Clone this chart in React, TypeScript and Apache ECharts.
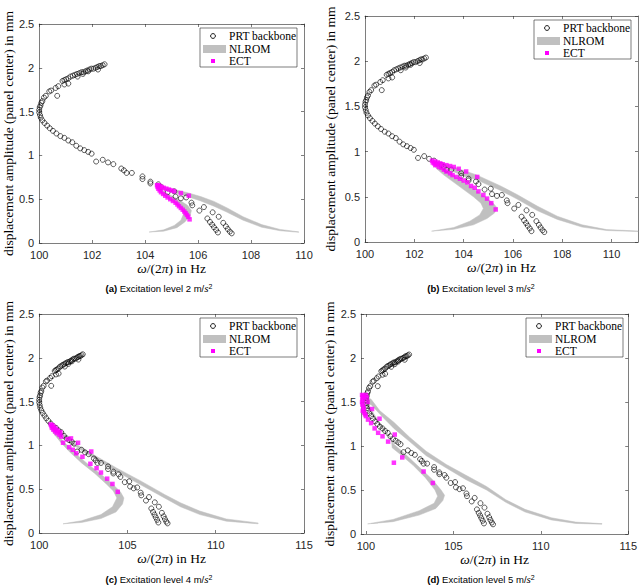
import * as echarts from "echarts";
import { useEffect, useRef } from "react";

const serif = "Liberation Serif";
const sans = "Liberation Sans";
const axisColor = "#262626";
const bandColor = "#c0c0c0";
const ectColor = "#ff00ff";

// PRT backbone, [frequency Hz, amplitude mm] (same test data in every panel)
const backbone = [
	[102.47, 2.04], [102.4, 2.03], [102.33, 2.02], [102.27, 2.02], [102.2, 2.01],
	[102.13, 2.0], [102.05, 1.99], [101.97, 1.99], [101.9, 1.98], [101.82, 1.97],
	[101.75, 1.96], [101.67, 1.95], [101.6, 1.95], [101.52, 1.94], [101.43, 1.93],
	[101.35, 1.92], [101.27, 1.91], [101.18, 1.9], [101.1, 1.88], [101.02, 1.87],
	[100.95, 1.86], [100.88, 1.85], [101.1, 1.82], [100.95, 1.81], [102.22, 1.98],
	[101.45, 1.9], [101.65, 1.93], [101.85, 1.96], [100.72, 1.79], [100.62, 1.77],
	[100.45, 1.74], [100.38, 1.73], [100.68, 1.68], [100.25, 1.68], [100.18, 1.66],
	[100.12, 1.62], [100.08, 1.6], [100.05, 1.57], [100.02, 1.55], [100.0, 1.52],
	[100.0, 1.49], [100.03, 1.46], [100.06, 1.43], [100.12, 1.4], [100.2, 1.37],
	[100.3, 1.34], [100.4, 1.31], [100.52, 1.28], [100.65, 1.25], [100.8, 1.22],
	[100.95, 1.2], [101.1, 1.17], [101.25, 1.15], [101.4, 1.11], [101.55, 1.08],
	[101.7, 1.06], [101.85, 1.04], [101.98, 1.02], [102.15, 0.93], [102.4, 0.95],
	[102.6, 0.92], [102.8, 0.9], [103.1, 0.85], [103.2, 0.83], [103.3, 0.8],
	[103.5, 0.8], [103.9, 0.76], [103.9, 0.73], [104.2, 0.7], [104.2, 0.68],
	[104.5, 0.67], [104.6, 0.64], [104.85, 0.58], [105.1, 0.59], [105.15, 0.53],
	[105.35, 0.51], [105.55, 0.52], [105.75, 0.46], [105.78, 0.43], [106.05, 0.37],
	[106.22, 0.41], [106.35, 0.28], [106.45, 0.24], [106.53, 0.21], [106.6, 0.18],
	[106.68, 0.15], [106.75, 0.12], [106.55, 0.35], [106.78, 0.3], [106.95, 0.23],
	[107.05, 0.19], [107.12, 0.16], [107.2, 0.13], [107.27, 0.11],
];

// ECT points per excitation level
const ectA = [
	[104.45, 0.66], [104.47, 0.64], [104.5, 0.62], [104.5, 0.66], [104.55, 0.6],
	[104.55, 0.65], [104.6, 0.58], [104.62, 0.64], [104.68, 0.56], [104.7, 0.63],
	[104.76, 0.54], [104.8, 0.62], [104.85, 0.52], [104.9, 0.61], [104.95, 0.5],
	[105.0, 0.6], [105.05, 0.48], [105.1, 0.59], [105.15, 0.46], [105.22, 0.44],
	[105.28, 0.42], [105.35, 0.57], [105.35, 0.4], [105.42, 0.38], [105.48, 0.36],
	[105.53, 0.34], [105.58, 0.32], [105.65, 0.54], [105.63, 0.3], [105.68, 0.27],
];
const ectB = [
	[102.72, 0.9], [102.75, 0.88], [102.8, 0.87], [102.85, 0.89], [102.85, 0.85],
	[102.9, 0.86], [102.95, 0.88], [103.0, 0.83], [103.05, 0.87], [103.1, 0.82],
	[103.15, 0.86], [103.2, 0.8], [103.3, 0.85], [103.3, 0.78], [103.45, 0.84],
	[103.45, 0.76], [103.6, 0.83], [103.55, 0.74], [103.8, 0.81], [103.7, 0.72],
	[103.85, 0.7], [104.1, 0.78], [104.0, 0.68], [104.15, 0.66], [104.3, 0.62],
	[104.55, 0.72], [104.45, 0.6], [104.6, 0.56], [104.8, 0.52], [104.95, 0.48],
	[105.12, 0.43], [105.3, 0.36],
];
const ectC = [
	[100.65, 1.24], [100.7, 1.22], [100.72, 1.2], [100.75, 1.23], [100.8, 1.18],
	[100.85, 1.21], [100.9, 1.16], [100.95, 1.19], [101.0, 1.14], [101.05, 1.17],
	[101.15, 1.12], [101.2, 1.15], [101.25, 1.1], [101.35, 1.03], [101.6, 1.07],
	[101.8, 1.08], [101.7, 0.98], [101.9, 0.95], [102.2, 1.03], [102.1, 0.91],
	[102.45, 0.87], [102.95, 0.93], [102.9, 0.79], [103.25, 0.74], [103.5, 0.69],
	[103.85, 0.62], [104.15, 0.56], [104.45, 0.47],
];
const ectD = [
	[99.78, 1.58], [99.8, 1.55], [99.82, 1.52], [99.78, 1.5], [99.85, 1.57],
	[99.8, 1.47], [99.85, 1.45], [99.88, 1.42], [99.82, 1.4], [99.9, 1.38],
	[99.95, 1.36], [100.0, 1.34], [99.9, 1.56], [100.0, 1.58], [100.05, 1.55],
	[100.1, 1.5], [100.12, 1.3], [100.3, 1.26], [100.5, 1.2], [100.7, 1.15],
	[100.95, 1.11], [101.27, 1.05], [100.35, 1.42], [100.78, 1.31], [101.65, 1.13],
	[101.6, 0.81], [102.08, 0.87], [103.3, 0.71], [103.83, 0.58],
];

// NLROM band edges, both running from the left end to the right end of the curve
const nlromA1 = [
	[104.15, 0.125], [104.7, 0.135], [105.2, 0.175], [105.5, 0.24], [105.7, 0.31],
	[105.75, 0.37], [105.6, 0.43], [105.35, 0.48], [105.05, 0.53], [104.75, 0.58],
	[104.6, 0.61], [104.9, 0.59], [105.3, 0.56], [105.6, 0.53], [106.1, 0.48],
	[106.6, 0.42], [107.1, 0.35], [107.7, 0.26], [108.4, 0.18], [109.1, 0.14],
	[109.8, 0.122],
];
const nlromA2 = [
	[104.15, 0.125], [104.7, 0.15], [105.1, 0.2], [105.35, 0.26], [105.45, 0.33],
	[105.4, 0.39], [105.2, 0.44], [104.95, 0.49], [104.7, 0.55], [104.5, 0.6],
	[104.45, 0.64], [104.7, 0.64], [105.1, 0.61], [105.6, 0.575], [106.1, 0.53],
	[106.6, 0.475], [107.1, 0.4], [107.7, 0.3], [108.4, 0.21], [109.1, 0.155],
	[109.8, 0.127],
];
const nlromB1 = [
	[102.7, 0.12], [103.6, 0.14], [104.4, 0.19], [104.95, 0.26], [105.25, 0.32],
	[105.35, 0.38], [105.2, 0.43], [104.9, 0.49], [104.5, 0.57], [104.1, 0.65],
	[103.7, 0.72], [103.3, 0.79], [103.05, 0.84], [103.4, 0.8], [104.0, 0.73],
	[104.5, 0.69], [105.5, 0.57], [106.2, 0.47], [107.0, 0.345], [107.8, 0.25],
	[108.8, 0.165], [109.8, 0.127], [111.07, 0.115],
];
const nlromB2 = [
	[102.7, 0.12], [103.6, 0.16], [104.25, 0.23], [104.65, 0.3], [104.8, 0.37],
	[104.7, 0.43], [104.4, 0.5], [104.0, 0.58], [103.6, 0.66], [103.2, 0.74],
	[102.9, 0.81], [102.75, 0.87], [102.9, 0.89], [103.5, 0.84], [104.0, 0.79],
	[104.5, 0.745], [105.5, 0.62], [106.2, 0.52], [107.0, 0.395], [107.8, 0.285],
	[108.8, 0.19], [109.8, 0.137], [111.07, 0.122],
];
const nlromC1 = [
	[101.35, 0.105], [102.4, 0.12], [103.5, 0.165], [104.35, 0.24], [104.72, 0.33],
	[104.8, 0.4], [104.6, 0.47], [104.15, 0.56], [103.5, 0.67], [102.8, 0.78],
	[102.1, 0.9], [101.5, 1.02], [101.0, 1.13], [100.85, 1.19], [101.2, 1.13],
	[101.9, 1.01], [102.9, 0.875], [104.4, 0.7], [105.75, 0.55], [107.1, 0.4],
	[108.0, 0.3], [109.1, 0.21], [110.6, 0.135], [112.4, 0.105],
];
const nlromC2 = [
	[101.35, 0.105], [102.4, 0.14], [103.5, 0.21], [104.15, 0.3], [104.4, 0.4],
	[104.2, 0.48], [103.8, 0.56], [103.15, 0.68], [102.4, 0.8], [101.7, 0.93],
	[101.2, 1.04], [100.8, 1.14], [100.65, 1.21], [100.9, 1.22], [101.5, 1.11],
	[102.0, 1.025], [102.9, 0.915], [104.4, 0.74], [105.75, 0.595], [107.1, 0.44],
	[108.0, 0.345], [109.1, 0.25], [110.6, 0.16], [112.4, 0.115],
];
const nlromD1 = [
	[100.1, 0.115], [101.55, 0.14], [103.05, 0.215], [104.0, 0.29], [104.4, 0.38],
	[104.5, 0.44], [104.3, 0.5], [103.8, 0.62], [103.1, 0.75], [102.4, 0.88],
	[101.9, 0.97], [101.6, 1.02], [101.2, 1.15], [100.6, 1.32], [100.1, 1.48],
	[100.3, 1.47], [100.9, 1.34], [101.6, 1.2], [102.5, 1.05], [103.45, 0.89],
	[104.6, 0.75], [105.7, 0.62], [106.9, 0.5], [108.0, 0.36], [109.1, 0.25],
	[110.6, 0.16], [112.0, 0.12], [113.5, 0.112],
];
const nlromD2 = [
	[100.1, 0.115], [101.55, 0.165], [103.05, 0.265], [103.9, 0.35], [104.1, 0.43],
	[103.95, 0.5], [103.4, 0.64], [102.7, 0.78], [102.0, 0.9], [101.5, 0.98],
	[101.45, 1.1], [100.9, 1.2], [100.3, 1.38], [99.9, 1.5], [99.95, 1.57],
	[100.3, 1.53], [100.8, 1.4], [101.6, 1.27], [102.5, 1.1], [103.45, 0.94],
	[104.6, 0.79], [105.7, 0.67], [106.9, 0.54], [108.0, 0.39], [109.1, 0.28],
	[110.6, 0.185], [112.0, 0.135], [113.5, 0.118],
];

const xTicksNarrow = [100, 102, 104, 106, 108, 110];
const xTicksWide = [100, 105, 110, 115];
const yTicks = [0, 0.5, 1, 1.5, 2, 2.5];
const xRanges = [
	[100, 110],
	[100, 111.07],
	[100, 115],
	[99.72, 115],
];
const levels = [2, 3, 4, 5];
const letters = ["a", "b", "c", "d"];
const legendNames = ["PRT backbone", "NLROM", "ECT"];

const panels = [
	{ left: 38, top: 24, width: 266, height: 219, ticks: xTicksNarrow, ect: ectA, b1: nlromA1, b2: nlromA2, gap: 24, cx: 159, cy: 288 },
	{ left: 365, top: 16, width: 273, height: 226, ticks: xTicksNarrow, ect: ectB, b1: nlromB1, b2: nlromB2, gap: 28, cx: 481, cy: 288 },
	{ left: 38, top: 314, width: 266, height: 219, ticks: xTicksWide, ect: ectC, b1: nlromC1, b2: nlromC2, gap: 24, cx: 159, cy: 579 },
	{ left: 361, top: 314, width: 269, height: 220, ticks: xTicksWide, ect: ectD, b1: nlromD1, b2: nlromD2, gap: 24, cx: 481, cy: 579 },
];

export default function App() {
	const chartRef = useRef<HTMLDivElement>(null);

	useEffect(() => {
		if (!chartRef.current) return;
		const chart = echarts.init(chartRef.current, null, { renderer: "svg" });

		const line = { color: axisColor, width: 0.6 };
		const tickLabel = { fontSize: 11, color: axisColor, fontFamily: sans };

		const grid = panels.map((p) => ({
			left: p.left,
			top: p.top,
			width: p.width,
			height: p.height,
		}));

		const xAxis = panels.flatMap((p, i) => [
			{
				gridIndex: i,
				type: "value",
				min: xRanges[i][0],
				max: xRanges[i][1],
				position: "bottom",
				axisLine: { show: true, onZero: false, lineStyle: line },
				axisTick: { show: true, inside: true, length: 3, lineStyle: line, customValues: p.ticks },
				axisLabel: { ...tickLabel, margin: 6, customValues: p.ticks },
				splitLine: { show: false },
				name: "{i|ω}/(2{i|π}) in Hz",
				nameLocation: "middle",
				nameGap: 18,
				nameTextStyle: {
					fontFamily: serif,
					fontSize: 13.5,
					color: "#000",
					rich: { i: { fontFamily: serif, fontSize: 13.5, fontStyle: "italic" } },
				},
			},
			{
				gridIndex: i,
				type: "value",
				min: xRanges[i][0],
				max: xRanges[i][1],
				position: "top",
				axisLine: { show: true, onZero: false, lineStyle: line },
				axisTick: { show: true, inside: true, length: 3, lineStyle: line, customValues: p.ticks },
				axisLabel: { show: false },
				splitLine: { show: false },
			},
		]);

		const yAxis = panels.flatMap((p, i) => [
			{
				gridIndex: i,
				type: "value",
				min: 0,
				max: 2.5,
				position: "left",
				axisLine: { show: true, onZero: false, lineStyle: line },
				axisTick: { show: true, inside: true, length: 3, lineStyle: line, customValues: yTicks },
				axisLabel: { ...tickLabel, margin: 5, customValues: yTicks },
				splitLine: { show: false },
				name: "displacement amplitude (panel center) in mm",
				nameLocation: "middle",
				nameGap: p.gap,
				nameTextStyle: { fontFamily: serif, fontSize: 13.5, color: "#000" },
			},
			{
				gridIndex: i,
				type: "value",
				min: 0,
				max: 2.5,
				position: "right",
				axisLine: { show: true, onZero: false, lineStyle: line },
				axisTick: { show: true, inside: true, length: 3, lineStyle: line, customValues: yTicks },
				axisLabel: { show: false },
				splitLine: { show: false },
			},
		]);

		const series = panels.flatMap((p, i) => {
			const outline = [...p.b1, ...p.b2.slice().reverse()];
			return [
				{
					name: "NLROM",
					type: "custom",
					xAxisIndex: 2 * i,
					yAxisIndex: 2 * i,
					silent: true,
					z: 1,
					data: outline,
					renderItem: (params: any, api: any) => {
						if (params.dataIndex !== 0) return null;
						return {
							type: "polygon",
							shape: { points: outline.map((pt) => api.coord(pt)) },
							style: { fill: bandColor, stroke: bandColor, lineWidth: 0.5 },
						};
					},
				},
				{
					name: "PRT backbone",
					type: "scatter",
					xAxisIndex: 2 * i,
					yAxisIndex: 2 * i,
					silent: true,
					z: 2,
					symbol: "circle",
					symbolSize: 5,
					itemStyle: { color: "rgba(255,255,255,0)", borderColor: "#000", borderWidth: 0.8 },
					data: backbone,
				},
				{
					name: "ECT",
					type: "scatter",
					xAxisIndex: 2 * i,
					yAxisIndex: 2 * i,
					silent: true,
					z: 3,
					symbol: "rect",
					symbolSize: 4.5,
					itemStyle: { color: ectColor },
					data: p.ect,
				},
			];
		});

		const legendText = (text: string, y: number) => ({
			type: "text",
			style: { text, x: 29, y, fontFamily: serif, fontSize: 11.5, fill: "#000", verticalAlign: "middle" },
		});

		const graphic = panels.flatMap((p, i) => [
			{
				type: "group",
				x: p.left + p.width - 104,
				y: p.top + 4,
				z: 100,
				children: [
					{
						type: "rect",
						shape: { x: 0, y: 0, width: 97, height: 39 },
						style: { fill: "#fff", stroke: axisColor, lineWidth: 0.6 },
					},
					{
						type: "circle",
						shape: { cx: 13, cy: 8, r: 2.4 },
						style: { fill: "none", stroke: "#000", lineWidth: 0.9 },
					},
					legendText(legendNames[0], 8),
					{
						type: "rect",
						shape: { x: 3, y: 17, width: 23, height: 8 },
						style: { fill: bandColor },
					},
					legendText(legendNames[1], 21),
					{
						type: "rect",
						shape: { x: 11, y: 31, width: 4, height: 4 },
						style: { fill: ectColor },
					},
					legendText(legendNames[2], 33),
				],
			},
			{
				type: "text",
				z: 100,
				style: {
					text: `{b|(${letters[i]})} Excitation level ${levels[i]} m/{s|s}{sup|2}`,
					x: p.cx,
					y: p.cy,
					align: "center",
					verticalAlign: "middle",
					fontFamily: sans,
					fontSize: 9.5,
					lineHeight: 11,
					fill: "#000",
					rich: {
						b: { fontFamily: sans, fontSize: 9.5, fontWeight: "bold", lineHeight: 11 },
						s: { fontFamily: serif, fontSize: 11, fontStyle: "italic", lineHeight: 11 },
						sup: { fontFamily: sans, fontSize: 7, lineHeight: 7, verticalAlign: "top" },
					},
				},
			},
		]);

		chart.setOption({
			animation: false,
			grid,
			xAxis,
			yAxis,
			series,
			graphic,
		});

		return () => {
			chart.dispose();
		};
	}, []);

	return (
		<div
			ref={chartRef}
			style={{ position: "absolute", left: 0, top: 0, width: 640, height: 587, background: "#fff" }}
		/>
	);
}
